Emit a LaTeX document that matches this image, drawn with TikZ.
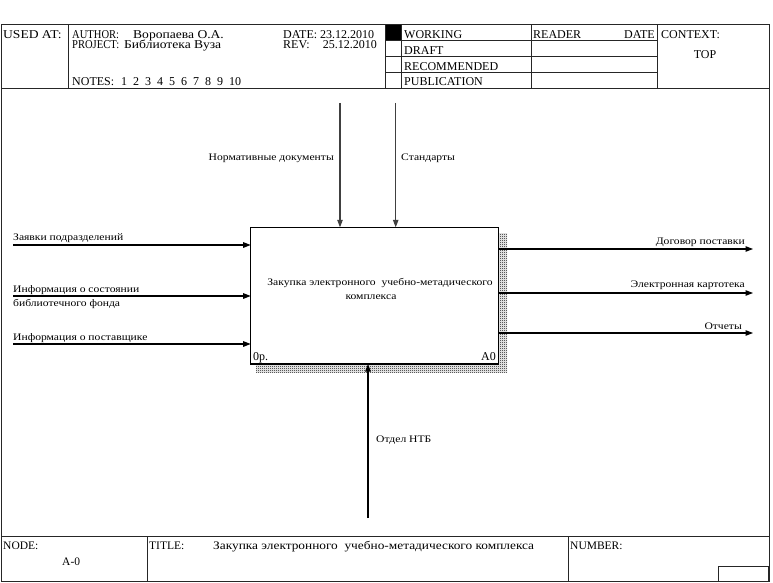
\documentclass[tikz,border=0pt]{standalone}
\usepackage{fontspec}
\setmainfont{Liberation Serif}
\newfontfamily\lblfont[FakeStretch=1.16]{Liberation Serif}
\newfontfamily\widef[FakeStretch=1.13]{Liberation Serif}
\newfontfamily\narrowf[FakeStretch=0.88]{Liberation Serif}
\usetikzlibrary{arrows.meta,patterns}
\pgfdeclarepatternformonly{finecheck}{\pgfpointorigin}{\pgfpoint{2pt}{2pt}}{\pgfpoint{2pt}{2pt}}{%
  \pgfpathrectangle{\pgfpointorigin}{\pgfpoint{1pt}{1pt}}%
  \pgfpathrectangle{\pgfpoint{1pt}{1pt}}{\pgfpoint{1pt}{1pt}}%
  \pgfusepath{fill}}
\begin{document}
\begin{tikzpicture}[x=1pt,y=-1pt,
  frame/.style={line width=1pt, draw=black!85},
  hdr/.style={inner sep=0, font=\fontsize{12}{12}\selectfont},
  ftr/.style={inner sep=0, font=\fontsize{11.5}{11.5}\selectfont},
  lbl/.style={inner sep=0, font=\lblfont\fontsize{10}{10}\selectfont},
  arr/.style={line width=1.1pt, -{Triangle[length=7.5pt,width=5.5pt]}}]
\useasboundingbox (0,0) rectangle (773,583);
% ---------- frame ----------
\draw[frame] (1,25) rectangle (769,581);
\draw[frame] (1,89) -- (769,89);
\draw[frame] (1,536) -- (769,536);
% header columns
\fill[black] (385,25) rectangle (401,40.5);
\draw[frame] (68,25) -- (68,89);
\draw[frame] (385,25) -- (385,89);
\draw[frame] (401,25) -- (401,89);
\draw[frame] (531,25) -- (531,89);
\draw[frame] (657,25) -- (657,89);
\draw[frame] (385,40.5) -- (657,40.5);
\draw[frame] (385,56.5) -- (657,56.5);
\draw[frame] (385,72.5) -- (657,72.5);
% footer columns
\draw[frame] (147,536) -- (147,581);
\draw[frame] (568,536) -- (568,581);
\draw[frame] (718,566) rectangle (768,581);
% ---------- header texts ----------
\node[hdr, anchor=base west] (usedat) at (3,38.3) {\widef USED AT:};
\node[hdr, anchor=base west] (author) at (72,38.3) {\narrowf AUTHOR:};
\node[hdr, anchor=base west] (authv) at (133,38.3) {\widef Воропаева О.А.};
\node[hdr, anchor=base west] (proj) at (72,49) {\narrowf PROJECT:};
\node[hdr, anchor=base west] (projv) at (124,49) {\widef Библиотека Вуза};
\node[hdr, anchor=base west] (notes) at (72,86) {NOTES:};
\node[hdr, anchor=base west] (notesv) at (121,86) {1\hspace{6pt}2\hspace{6pt}3\hspace{6pt}4\hspace{6pt}5\hspace{6pt}6\hspace{6pt}7\hspace{6pt}8\hspace{6pt}9\hspace{6pt}10};
\node[hdr, anchor=base west] (date) at (283,38.3) {DATE: 23.12.2010};
\node[hdr, anchor=base west] (rev) at (283,49) {REV:};
\node[hdr, anchor=base east] (revv) at (377,49) {25.12.2010};
\node[hdr, anchor=base west] (working) at (404,38.3) {WORKING};
\node[hdr, anchor=base west] (draft) at (404,54.5) {DRAFT};
\node[hdr, anchor=base west] (recom) at (404,70.5) {RECOMMENDED};
\node[hdr, anchor=base west] (publ) at (404,86) {PUBLICATION};
\node[hdr, anchor=base west] (reader) at (533,38.3) {READER};
\node[hdr, anchor=base east] (rdate) at (655,38.3) {DATE};
\node[hdr, anchor=base west] (context) at (661,38.3) {CONTEXT:};
\node[hdr, anchor=base] (top) at (705,58.3) {TOP};
% ---------- footer texts ----------
\node[ftr, anchor=base west] (nodelbl) at (3,549) {NODE:};
\node[ftr, anchor=base west] (nodev) at (62,565) {A-0};
\node[ftr, anchor=base west] (titlelbl) at (149,549) {TITLE:};
\node[ftr, anchor=base west] (titlev) at (213,549) {\lblfont Закупка электронного\ \ учебно-метадического комплекса};
\node[ftr, anchor=base west] (numlbl) at (570,549) {NUMBER:};
% ---------- activity box ----------
\fill[pattern=finecheck, pattern color=black] (256,233) rectangle (507,372);
\node[draw, line width=1.1pt, fill=white, inner sep=0, minimum width=247.6pt, minimum height=136.7pt] (box) at (374.5,295.65) {};
\node[lbl, anchor=base] (boxt1) at (380,285) {Закупка электронного\ \ учебно-метадического};
\node[lbl, anchor=base] (boxt2) at (371,299) {комплекса};
\node[hdr, anchor=base west] (boxnum) at (253,360) {0р.};
\node[hdr, anchor=base east] (boxid) at (496,360) {A0};
% ---------- inputs ----------
\coordinate (i1s) at (13,245);  \coordinate (i1e) at (250.7,245);
\coordinate (i2s) at (13,296);  \coordinate (i2e) at (250.7,296);
\coordinate (i3s) at (13,344);  \coordinate (i3e) at (250.7,344);
\draw[arr] (i1s) -- (i1e);
\draw[arr] (i2s) -- (i2e);
\draw[arr] (i3s) -- (i3e);
\node[lbl, anchor=base west] (l1) at (13,240) {Заявки подразделений};
\node[lbl, anchor=base west] (l2a) at (13,292) {Информация о состоянии};
\node[lbl, anchor=base west] (l2b) at (13,306) {библиотечного фонда};
\node[lbl, anchor=base west] (l3) at (13,340) {Информация о поставщике};
% ---------- outputs ----------
\coordinate (o1s) at (498.3,249); \coordinate (o1e) at (753,249);
\coordinate (o2s) at (498.3,293); \coordinate (o2e) at (753,293);
\coordinate (o3s) at (498.3,333); \coordinate (o3e) at (753,333);
\draw[arr] (o1s) -- (o1e);
\draw[arr] (o2s) -- (o2e);
\draw[arr] (o3s) -- (o3e);
\node[lbl, anchor=base east] (r1) at (745,244.5) {Договор поставки};
\node[lbl, anchor=base east] (r2) at (745,287) {Электронная картотека};
\node[lbl, anchor=base east] (r3) at (742,329) {Отчеты};
% ---------- controls ----------
\coordinate (c1s) at (340,103); \coordinate (c1e) at (340,227.3);
\coordinate (c2s) at (395.7,103); \coordinate (c2e) at (395.7,227.3);
\draw[arr, draw=black!75] (c1s) -- (c1e);
\draw[arr, draw=black!75] (c2s) -- (c2e);
\node[lbl, anchor=base east] (ctl1) at (334,160) {Нормативные документы};
\node[lbl, anchor=base west] (ctl2) at (401,160) {Стандарты};
% ---------- mechanism ----------
\coordinate (m1s) at (368,518); \coordinate (m1e) at (368,364);
\draw[arr] (m1s) -- (m1e);
\node[lbl, anchor=base west] (mech) at (376,442) {Отдел НТБ};
\end{tikzpicture}
\end{document}
